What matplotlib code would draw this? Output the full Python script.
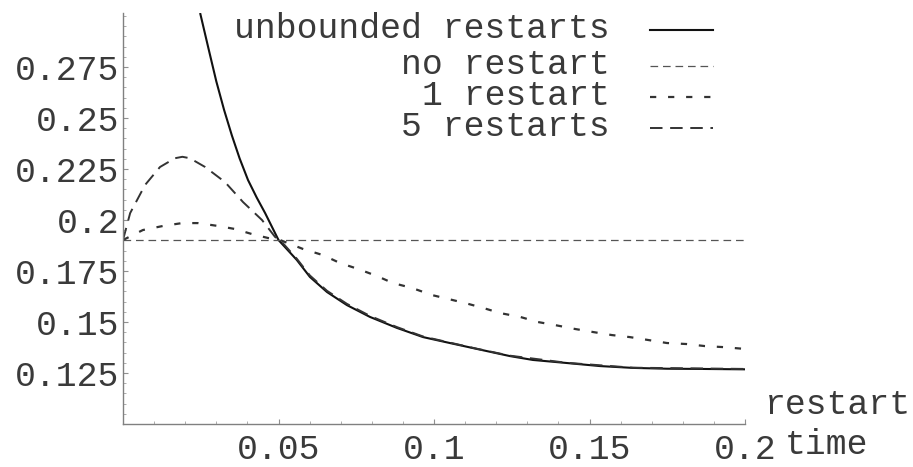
import matplotlib
matplotlib.use("Agg")
import matplotlib.pyplot as plt
from matplotlib.ticker import MultipleLocator
from matplotlib.lines import Line2D

plt.rcParams['font.family'] = ['Liberation Mono', 'DejaVu Sans Mono']
plt.rcParams['lines.scale_dashes'] = False

# ---- data ----
unbounded_x = [0.0248, 0.0275, 0.0300, 0.0325, 0.0350, 0.0375, 0.0402, 0.0430, 0.0457,
               0.0500, 0.0559, 0.0601, 0.0656, 0.0720, 0.0794, 0.0881, 0.0965, 0.1051,
               0.1138, 0.1244, 0.1318, 0.1427, 0.1534, 0.1640, 0.1749, 0.1855, 0.2000]
unbounded_y = [0.3015, 0.2840, 0.2680, 0.2540, 0.2415, 0.2302, 0.2196, 0.2110, 0.2034,
               0.1902, 0.1804, 0.1721, 0.1647, 0.1583, 0.1525, 0.1471, 0.1426, 0.1397,
               0.1368, 0.1333, 0.1314, 0.1299, 0.1284, 0.1275, 0.1271, 0.1270, 0.1268]

norestart_x = [0.0, 0.2]
norestart_y = [0.1902, 0.1902]

one_x = [0.0, 0.0064, 0.0129, 0.0190, 0.0241, 0.0305, 0.0360, 0.0415, 0.0466, 0.0505,
         0.0579, 0.0643, 0.0698, 0.0756, 0.0817, 0.0868, 0.0929, 0.0994, 0.1100, 0.1158,
         0.1212, 0.1277, 0.1334, 0.1389, 0.1453, 0.1511, 0.1572, 0.1630, 0.1688, 0.1749,
         0.1813, 0.1871, 0.1930, 0.2000]
one_y = [0.1902, 0.1951, 0.1971, 0.1985, 0.1985, 0.1971, 0.1956, 0.1931, 0.1912, 0.1902,
         0.1858, 0.1828, 0.1789, 0.1760, 0.1725, 0.1691, 0.1667, 0.1632, 0.1593, 0.1569,
         0.1544, 0.1525, 0.1500, 0.1485, 0.1466, 0.1451, 0.1436, 0.1426, 0.1412, 0.1397,
         0.1392, 0.1382, 0.1377, 0.1368]

five_x = [0.0, 0.0023, 0.0071, 0.0119, 0.0167, 0.0191, 0.0215, 0.0264, 0.0328, 0.0386,
          0.0447, 0.0489, 0.0505, 0.0559, 0.0601, 0.0656, 0.0720, 0.0794, 0.0881, 0.0965,
          0.1051, 0.1138, 0.1244, 0.1427, 0.1640, 0.2000]
five_y = [0.1902, 0.2034, 0.2172, 0.2260, 0.2303, 0.2310, 0.2303, 0.2260, 0.2186, 0.2088,
          0.2000, 0.1917, 0.1902, 0.1810, 0.1728, 0.1653, 0.1589, 0.1530, 0.1475, 0.1429,
          0.1399, 0.1369, 0.1335, 0.1300, 0.1276, 0.1270]

labels = ["unbounded restarts", "no restart", "1 restart", "5 restarts"]

xticks = [0.05, 0.1, 0.15, 0.2]
xticklabels = ["0.05", "0.1", "0.15", "0.2"]
yticks = [0.125, 0.15, 0.175, 0.2, 0.225, 0.25, 0.275]
yticklabels = ["0.125", "0.15", "0.175", "0.2", "0.225", "0.25", "0.275"]

# ---- figure ----
W, H = 913, 467
fig = plt.figure(figsize=(W / 100, H / 100), dpi=100)
ax = fig.add_axes([123 / W, (H - 424) / H, 622 / W, 411 / H])
ax.set_xlim(0, 0.2)
ax.set_ylim(0.1, 0.3015)

styles = [
    dict(color='#111111', lw=1.5, ls='-'),
    dict(color='#555555', lw=0.9, dashes=(5.5, 3.5)),
    dict(color='#333333', lw=1.6, dashes=(4.5, 8.5)),
    dict(color='#333333', lw=1.4, dashes=(9.0, 5.5)),
]
series = [(unbounded_x, unbounded_y), (norestart_x, norestart_y), (one_x, one_y), (five_x, five_y)]
for (xs, ys), st in zip(series, styles):
    ax.plot(xs, ys, solid_capstyle='butt', dash_capstyle='butt', **st)

for s in ['top', 'right']:
    ax.spines[s].set_visible(False)
for s in ['left', 'bottom']:
    ax.spines[s].set_color('#808080')
    ax.spines[s].set_linewidth(1.0)

txtcol = '#3a3a3a'
fs = 25
ax.set_xticks(xticks, xticklabels)
ax.set_yticks(yticks, yticklabels)
ax.xaxis.set_minor_locator(MultipleLocator(0.01))
ax.yaxis.set_minor_locator(MultipleLocator(0.005))
ax.tick_params(which='major', direction='in', length=3.5, width=0.8, color='#909090',
               labelsize=fs, labelcolor=txtcol)
ax.tick_params(which='minor', direction='in', length=2.2, width=0.6, color='#a0a0a0')
ax.tick_params(axis='x', which='major', pad=6.5)
ax.tick_params(axis='y', which='major', pad=2.5)

# axis labels
fig.text(765 / W, 1 - 404 / H, "restart", fontsize=fs, color=txtcol, ha='left', va='center')
fig.text(785 / W, 1 - 444 / H, "time", fontsize=fs, color=txtcol, ha='left', va='center')

# legend (Mathematica style: right aligned text followed by line sample)
row_line_y = [30, 66, 97, 128]
for lab, st, ly in zip(labels, styles, row_line_y):
    fig.text(610 / W, 1 - (ly + 8) / H, lab, fontsize=fs, color=txtcol, ha='right', va='baseline')
    fig.add_artist(Line2D([650 / W, 713 / W], [1 - ly / H, 1 - ly / H],
                          transform=fig.transFigure, dash_capstyle='butt', **st))

fig.savefig("out.png", dpi=100, facecolor='white')
